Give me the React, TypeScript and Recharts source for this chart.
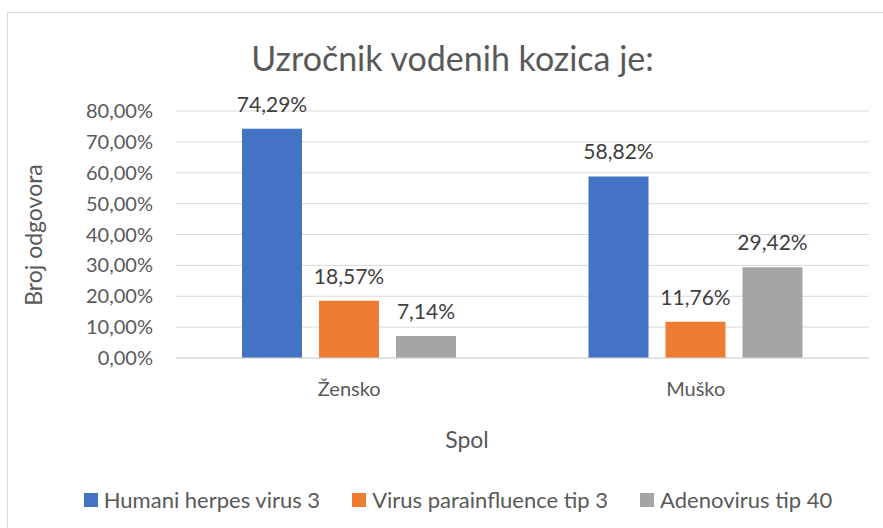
import { Bar, BarChart, CartesianGrid, LabelList, Legend, XAxis, YAxis } from "recharts";

const categories = ["Žensko", "Muško"];
const herpes = [74.29, 58.82];
const parainfluence = [18.57, 11.76];
const adenovirus = [7.14, 29.42];
const yTicks = [0, 10, 20, 30, 40, 50, 60, 70, 80];

const series = [
  { key: "herpes", name: "Humani herpes virus 3", color: "#4472C4" },
  { key: "parainfluence", name: "Virus parainfluence tip 3", color: "#ED7D31" },
  { key: "adenovirus", name: "Adenovirus tip 40", color: "#A5A5A5" },
];

const data = categories.map((name, i) => ({
  name,
  herpes: herpes[i],
  parainfluence: parainfluence[i],
  adenovirus: adenovirus[i],
}));

const font = "Lato, 'Open Sans', sans-serif";
const pct = (v: number) => `${v.toFixed(2).replace(".", ",")}%`;

const YLabel = () => (
  <text
    x={33}
    y={235}
    transform="rotate(-90 33 235)"
    textAnchor="middle"
    dominantBaseline="central"
    fill="#595959"
    fontSize={23}
    fontFamily={font}
  >
    Broj odgovora
  </text>
);

// Excel centres the axis title a bit left of the plot centre
const XLabel = ({ viewBox }: any) => (
  <text
    x={467}
    y={viewBox.y + viewBox.height}
    textAnchor="middle"
    fill="#595959"
    fontSize={23}
    fontFamily={font}
  >
    Spol
  </text>
);

const LegendContent = () => (
  <div style={{ display: "flex", justifyContent: "center", gap: 32, fontFamily: font, fontSize: 22, color: "#595959", lineHeight: "30px" }}>
    {series.map((s) => (
      <div key={s.key} style={{ display: "flex", alignItems: "center" }}>
        <span style={{ width: 14, height: 14, background: s.color, marginRight: 6, display: "inline-block" }} />
        {s.name}
      </div>
    ))}
  </div>
);

export default function App() {
  return (
    <div style={{ position: "fixed", left: 0, top: 0, width: 883, height: 528, background: "#fff", overflow: "hidden" }}>
      <div style={{ position: "absolute", left: 7, top: 12, width: 900, height: 600, border: "1px solid #d9d9d9" }} />
      <div
        style={{
          position: "absolute",
          left: 0,
          width: 905,
          top: 38,
          textAlign: "center",
          fontFamily: font,
          fontSize: 34,
          color: "#595959",
          lineHeight: "40px",
        }}
      >
        Uzročnik vodenih kozica je:
      </div>
      <div style={{ position: "absolute", left: 0, top: 0 }}>
        <BarChart
          width={883}
          height={528}
          data={data}
          margin={{ top: 111, right: 14, left: 0, bottom: 50 }}
          barSize={60}
          barGap={17}
        >
          <CartesianGrid vertical={false} stroke="#d9d9d9" />
          <XAxis
            dataKey="name"
            axisLine={{ stroke: "#d9d9d9" }}
            tickLine={false}
            tickMargin={18}
            height={90}
            tick={{ fill: "#595959", fontSize: 20, fontFamily: font }}
            label={<XLabel />}
          />
          <YAxis
            width={176}
            domain={[0, 80]}
            ticks={yTicks}
            axisLine={false}
            tickLine={false}
            tickMargin={17}
            tickFormatter={pct}
            tick={{ fill: "#595959", fontSize: 20, fontFamily: font }}
            label={<YLabel />}
          />
          <Legend
            verticalAlign="bottom"
            height={30}
            content={<LegendContent />}
            wrapperStyle={{ left: 0, width: 916, top: 485 }}
          />
          {series.map((s) => (
            <Bar key={s.key} dataKey={s.key} name={s.name} fill={s.color} isAnimationActive={false}>
              <LabelList
                dataKey={s.key}
                position="top"
                offset={17}
                formatter={(v: any) => pct(Number(v))}
                fill="#404040"
                fontSize={21}
                fontFamily={font}
              />
            </Bar>
          ))}
        </BarChart>
      </div>
    </div>
  );
}
